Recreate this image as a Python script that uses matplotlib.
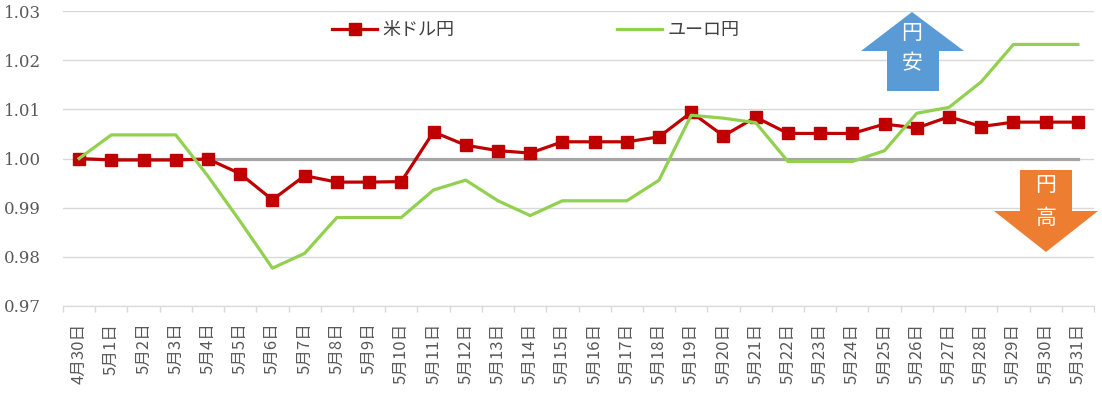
import matplotlib
matplotlib.use('Agg')
import matplotlib.pyplot as plt
from matplotlib.patches import Polygon

# --- data ---
dates = ['4月30日'] + ['5月%d日' % d for d in range(1, 32)]
usd_jpy = [1.0000, 0.9997, 0.9997, 0.9997, 0.9999, 0.9969, 0.9916, 0.9965,
           0.9952, 0.9952, 0.9953, 1.0054, 1.0027, 1.0016, 1.0011, 1.0034,
           1.0034, 1.0034, 1.0044, 1.0094, 1.0046, 1.0084, 1.0051, 1.0051,
           1.0051, 1.0070, 1.0062, 1.0085, 1.0065, 1.0074, 1.0074, 1.0074]
eur_jpy = [1.0000, 1.0048, 1.0048, 1.0048, 0.9964, 0.9872, 0.9777, 0.9807,
           0.9880, 0.9880, 0.9880, 0.9936, 0.9956, 0.9914, 0.9884, 0.9914,
           0.9914, 0.9914, 0.9956, 1.0088, 1.0082, 1.0073, 0.9994, 0.9994,
           0.9994, 1.0016, 1.0092, 1.0104, 1.0156, 1.0232, 1.0232, 1.0232]
base = [1.0] * len(dates)
y_ticks = [0.97, 0.98, 0.99, 1.00, 1.01, 1.02, 1.03]

W, H = 1102, 393
jp = ['Noto Sans CJK JP', 'DejaVu Sans']

fig = plt.figure(figsize=(W / 100, H / 100), dpi=100)
ax = fig.add_axes([63 / W, 1 - 306 / H, (1094 - 63) / W, (306 - 11) / H])

x = list(range(len(dates)))
ax.plot(x, base, color='#a6a6a6', lw=2.3, zorder=2)
l1, = ax.plot(x, usd_jpy, color='#c00000', lw=2.3, marker='s', ms=8.5, zorder=3)
l2, = ax.plot(x, eur_jpy, color='#92d050', lw=2.3, zorder=4)

ax.set_xlim(-0.5, len(dates) - 0.5)
ax.set_ylim(0.97, 1.03)
ax.set_yticks(y_ticks)
ax.set_yticklabels(['%.2f' % v for v in y_ticks])
for lbl in ax.get_yticklabels():
    lbl.set_fontfamily('DejaVu Serif')
    lbl.set_fontsize(12)
    lbl.set_color('#595959')
ax.yaxis.grid(True, color='#d9d9d9', lw=1)
ax.set_axisbelow(True)
ax.tick_params(axis='y', length=0, pad=16)

ax.set_xticks(x)
ax.set_xticklabels(dates, rotation=90, family=jp, fontsize=12, color='#595959')
ax.set_xticks([i - 0.5 for i in range(len(dates) + 1)], minor=True)
ax.tick_params(axis='x', which='major', length=0, pad=12)
ax.tick_params(axis='x', which='minor', length=4, color='#d9d9d9', width=1)

for s in ['left', 'right', 'top']:
    ax.spines[s].set_visible(False)
ax.spines['bottom'].set_color('#d9d9d9')

fig.legend([l1, l2], ['米ドル円', 'ユーロ円'], loc='center left',
           bbox_to_anchor=(323 / W, 1 - 30 / H), ncol=2, frameon=False,
           prop={'family': jp, 'size': 13}, handlelength=2.5,
           handletextpad=0.3, columnspacing=9.0, borderpad=0, labelcolor='#404040')


def px(pts):
    return [(a / W, 1 - b / H) for a, b in pts]


up = px([(912, 12), (964, 51), (939, 51), (939, 91), (887, 91), (887, 51), (861, 51)])
down = px([(1020, 170), (1072, 170), (1072, 211), (1098, 211), (1046, 252),
           (994, 211), (1020, 211)])
fig.add_artist(Polygon(up, closed=True, transform=fig.transFigure,
                       facecolor='#5b9bd5', edgecolor='none', zorder=5))
fig.add_artist(Polygon(down, closed=True, transform=fig.transFigure,
                       facecolor='#ed7d31', edgecolor='none', zorder=5))
for t, (a, b) in [('円', (912, 33)), ('安', (912, 63)), ('円', (1046, 185)), ('高', (1046, 218))]:
    fig.text(a / W, 1 - b / H, t, color='white', fontsize=15, family=jp,
             ha='center', va='center', zorder=6)

fig.savefig('out.png', dpi=100)
